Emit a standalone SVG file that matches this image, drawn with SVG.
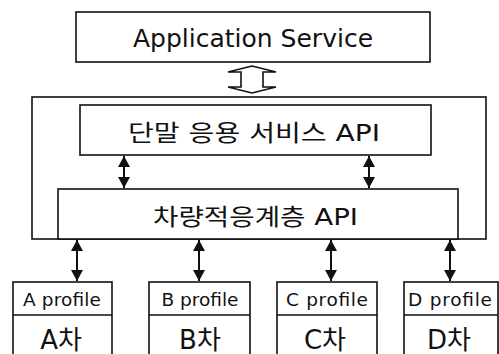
<svg xmlns="http://www.w3.org/2000/svg" width="499" height="354" viewBox="0 0 499 354">
<style>
.box{fill:#fff;stroke:#111;stroke-width:1.6}
.t{font-family:"DejaVu Sans","Noto Sans CJK KR",sans-serif;fill:#111;text-anchor:middle}
.k{font-family:"DejaVu Sans","Noto Sans CJK KR",sans-serif;fill:#111;text-anchor:middle}
.conn{stroke:#111;stroke-width:2;fill:none;marker-start:url(#ah);marker-end:url(#ah)}
</style>
<defs>
<marker id="ah" markerUnits="userSpaceOnUse" markerWidth="11" markerHeight="12" refX="11" refY="6" orient="auto-start-reverse" viewBox="0 0 11 12">
<path d="M0,0 L11,6 L0,12 z" fill="#111"/>
</marker>
</defs>
<rect width="499" height="354" fill="#fff"/>
<g id="app-service">
<rect class="box" x="76" y="12" width="354" height="50"/>
<text class="t" x="253" y="47" font-size="25">Application Service</text>
</g>
<g id="platform">
<rect class="box" x="32" y="97" width="454" height="142"/>
</g>
<g id="terminal-api">
<rect class="box" x="80" y="105" width="351" height="50"/>
<text class="k" x="254" y="141" font-size="23" textLength="252" lengthAdjust="spacingAndGlyphs">단말 응용 서비스 API</text>
</g>
<g id="vehicle-api">
<rect class="box" x="58" y="189" width="400" height="50"/>
<text class="k" x="255.5" y="225" font-size="23" textLength="205" lengthAdjust="spacingAndGlyphs">차량적응계층 API</text>
</g>
<g id="car-a">
<rect class="box" x="13" y="282" width="99" height="80"/>
<line class="box" x1="13" y1="315" x2="112" y2="315"/>
<text class="t" x="62" y="306" font-size="18.5" textLength="78">A profile</text>
<text class="k" x="61" y="349" font-size="26">A차</text>
</g>
<g id="car-b">
<rect class="box" x="149" y="282" width="101" height="80"/>
<line class="box" x1="149" y1="315" x2="250" y2="315"/>
<text class="t" x="200" y="306" font-size="18.5" textLength="77">B profile</text>
<text class="k" x="200" y="349" font-size="26">B차</text>
</g>
<g id="car-c">
<rect class="box" x="277" y="282" width="100" height="80"/>
<line class="box" x1="277" y1="315" x2="377" y2="315"/>
<text class="t" x="327" y="306" font-size="18.5" textLength="82">C profile</text>
<text class="k" x="325" y="349" font-size="26">C차</text>
</g>
<g id="car-d">
<rect class="box" x="404" y="282" width="94" height="80"/>
<line class="box" x1="404" y1="315" x2="498" y2="315"/>
<text class="t" x="450" y="306" font-size="18.5" textLength="84">D profile</text>
<text class="k" x="449" y="349" font-size="26">D차</text>
</g>
<g id="connectors">
<polygon points="252,66 276,72 263,72 263,87 276,87 252,93 228,87 241,87 241,72 228,72" fill="#fff" stroke="#111" stroke-width="1.6" stroke-linejoin="miter"/>
<line class="conn" x1="124" y1="156" x2="124" y2="188"/>
<line class="conn" x1="369" y1="156" x2="369" y2="188"/>
<line class="conn" x1="77" y1="240" x2="77" y2="281"/>
<line class="conn" x1="199" y1="240" x2="199" y2="281"/>
<line class="conn" x1="331" y1="240" x2="331" y2="281"/>
<line class="conn" x1="450" y1="240" x2="450" y2="281"/>
</g>
</svg>
